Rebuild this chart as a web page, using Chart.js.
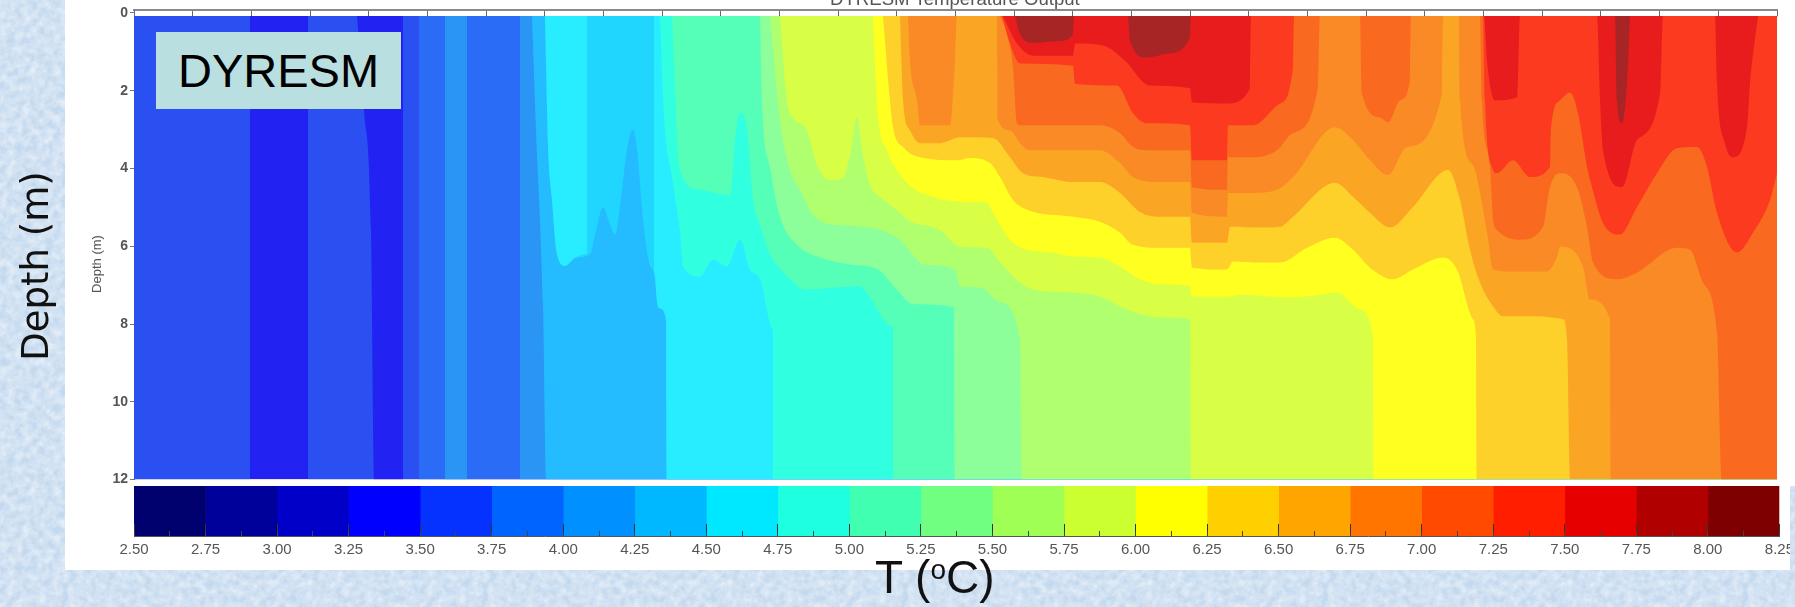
<!DOCTYPE html>
<html>
<head>
<meta charset="utf-8">
<title>DYRESM Temperature Output</title>
<script src="https://cdn.jsdelivr.net/npm/chart.js@4"></script>
<style>
    html, body { margin: 0; padding: 0; }
    body {
        position: relative; width: 1795px; height: 607px; overflow: hidden;
        font-family: "Liberation Sans", Arial, sans-serif; color: #111;
        background-color: #c2d8ee;
        background-image: url("data:image/svg+xml;utf8,<svg xmlns='http://www.w3.org/2000/svg' width='420' height='420'><filter id='n'><feTurbulence type='fractalNoise' baseFrequency='0.13' numOctaves='4' stitchTiles='stitch'/><feColorMatrix values='0 0 0 0 1 0 0 0 0 1 0 0 0 0 1 0.9 0 0 0 -0.2'/></filter><rect width='100%' height='100%' filter='url(%23n)'/></svg>");
    }
    .panel { position: absolute; background: #fff; }
    .label { position: absolute; white-space: nowrap; }
    #plotWrap { position: absolute; left: 65px; top: 0; width: 1730px; height: 490px; }
    #barWrap { position: absolute; left: 65px; top: 484px; width: 1725px; height: 86px; overflow: hidden; }
    canvas { display: block; filter: blur(0.7px); }
    #plotTitle { left: 830px; top: -11px; font-size: 18.6px; line-height: 20px; color: #555; }
    #tag {
        left: 156px; top: 32px; width: 245px; height: 77px; background: #b9dfe1; color: #000;
        font-size: 47px; line-height: 77px; text-align: center;
    }
    #depthSmall { left: 96px; top: 264px; font-size: 13px; color: #555; transform: translate(-50%, -50%) rotate(-90deg); }
    #depthBig {
        left: 35px; top: 266px; font-family: "DejaVu Sans", sans-serif; font-size: 37px;
        transform: translate(-50%, -50%) rotate(-90deg);
    }
    #tempLabel { left: 875px; top: 551px; font-size: 46px; line-height: 53px; }
    #tempLabel sup { font-size: 28px; line-height: 0; position: relative; top: -2px; vertical-align: 12px; }
</style>
</head>
<body>
<div class="panel" style="left:65px;top:0;width:1730px;height:486px"></div>
<div class="panel" style="left:65px;top:486px;width:1725px;height:84px"></div>
<div id="plotWrap"><canvas id="plotChart" width="1730" height="490"></canvas></div>
<div id="barWrap"><canvas id="barChart" width="1746" height="86"></canvas></div>
<div class="label" id="plotTitle">DYRESM Temperature Output</div>
<div class="label" id="tag">DYRESM</div>
<div class="label" id="depthSmall">Depth (m)</div>
<div class="label" id="depthBig">Depth (m)</div>
<div class="label" id="tempLabel">T (<sup>o</sup>C)</div>

<script>
// Isotherms: [output step, depth in m] pairs. Water above the line is at least that warm.
const iso325 = [[0,12],[1643,12]];
const iso350 = [[0,12],[116,12],[116,0],[174,0],[174,12],[1643,12]];
// colder pocket that sits above warmer water, painted back over iso350
const coldPocket = [[223,0],[230,2.5],[237,5.6],[240,12],[269,12],[269,0]];
const iso375 = [[285,0],[285,12],[1643,12]];
const iso400 = [[311,0],[311,12],[333,12],[333,0],[386,0],[386,12],[1643,12]];
const iso425 = [[398,0],[402,3],[409,7.5],[412,12],[1643,12]];
const iso450 = [[411,0],[414,3.4],[418,4.8],[423,6.2],[431,6.5],[441,6.3],[456,6.2],[462,5.6],[469,5],[476,5.45],[481,5.7],[488,4.55],[493,3.5],[499,3],[503,3.5],[509,5.3],[516,6.5],[519,6.6],[526,7.6],[532,7.9],[533,12],[1643,12]];
// brighter part of the 4.5 class, the strip between is a touch bluer in the image
const iso450b = [[411,0],[414,3.4],[418,4.8],[423,6.2],[431,6.5],[441,6.3],[453,6.2],[453,0],[520,0],[521,6.7],[526,7.6],[532,7.9],[533,12],[1643,12]];
const iso475 = [[526,0],[529,2.25],[539,4.37],[546,5.65],[549,6.52],[566,6.78],[579,6.34],[593,6.52],[606,5.83],[616,6.6],[626,6.85],[639,8.13],[639,12],[1643,12]];
const iso500 = [[538,0],[546,4.04],[566,4.55],[596,4.68],[602,3.02],[607,2.56],[613,3.02],[619,4.81],[626,5.45],[636,6.21],[647,6.6],[672,7.11],[724,7.03],[759,8.06],[759,12],[1643,12]];
const iso525 = [[626,0],[628,2.25],[636,3.96],[646,5.24],[663,5.96],[686,6.29],[716,6.47],[744,6.6],[761,7.06],[780,7.49],[820,7.57],[821,12],[1643,12]];
const iso550 = [[636,0],[646,2.76],[656,4.04],[666,4.55],[679,5.19],[701,5.45],[716,5.47],[746,5.58],[766,5.83],[791,6.47],[821,6.6],[826,7.03],[846,7.06],[866,7.44],[886,8.39],[888,12],[1643,12]];
const iso575 = [[646,0],[653,2.25],[659,2.69],[673,3.02],[683,3.91],[696,4.3],[709,4.25],[717,3.53],[723,2.69],[728,3.53],[736,4.42],[746,4.73],[766,5.14],[773,5.32],[806,5.58],[826,6.01],[853,6.04],[866,6.42],[886,6.93],[899,7.11],[939,7.19],[966,7.29],[986,7.54],[1006,7.75],[1026,7.83],[1056,7.88],[1057,12],[1643,12]];
const iso600 = [[739,0],[741,1.41],[744,2.69],[753,3.53],[773,4.37],[799,4.73],[833,4.86],[853,4.88],[859,5.14],[876,5.83],[893,6.09],[919,6.16],[939,6.27],[966,6.29],[986,6.52],[1006,6.85],[1026,6.98],[1056,7.03],[1058,7.29],[1093,7.29],[1109,7.24],[1146,7.31],[1173,7.29],[1203,7.19],[1226,7.62],[1239,8.34],[1240,12],[1643,12]];
const iso625 = [[749,0],[756,2.25],[759,2.94],[769,3.45],[789,3.73],[823,3.79],[836,3.73],[856,3.86],[866,4.22],[879,4.81],[893,5.06],[939,5.24],[966,5.37],[986,5.65],[999,5.96],[1026,6.04],[1056,6.04],[1058,6.55],[1093,6.6],[1099,6.39],[1126,6.42],[1146,6.42],[1173,6.04],[1201,5.78],[1219,6.09],[1236,6.55],[1259,6.85],[1279,6.6],[1309,6.29],[1323,6.6],[1339,7.88],[1342,8.39],[1343,12],[1643,12]];
const iso650 = [[766,0],[769,2.25],[776,3.02],[786,3.35],[806,3.35],[826,3.2],[859,3.22],[876,3.71],[889,4.12],[909,4.22],[939,4.35],[966,4.35],[986,4.63],[1006,5.12],[1026,5.24],[1056,5.24],[1058,5.91],[1093,5.91],[1096,5.5],[1126,5.52],[1146,5.5],[1159,5.24],[1201,4.37],[1219,4.73],[1236,5.14],[1256,5.52],[1279,4.99],[1314,4.04],[1326,4.81],[1336,6.09],[1346,6.93],[1359,7.54],[1369,7.8],[1403,7.8],[1429,7.88],[1433,8.39],[1436,12],[1643,12]];
const iso675 = [[774,0],[776,1.23],[783,2.25],[786,2.89],[816,2.89],[821,1.23],[823,0],[863,0],[864,2.76],[876,3.02],[886,3.35],[896,3.53],[939,3.53],[966,3.53],[986,3.86],[999,4.22],[1026,4.35],[1056,4.35],[1058,5.14],[1093,5.24],[1094,4.63],[1119,4.63],[1143,4.55],[1159,4.22],[1201,2.94],[1219,3.27],[1236,3.79],[1254,4.17],[1273,3.45],[1308,2.07],[1309,0],[1325,0],[1326,2.25],[1339,3.91],[1353,5.63],[1359,6.6],[1376,6.65],[1413,6.65],[1423,6.27],[1426,6.01],[1449,6.52],[1456,7.37],[1476,7.88],[1477,12],[1643,12]];
const iso700 = [[866,0],[873,0.54],[879,1.41],[883,2.84],[886,2.89],[939,2.89],[966,2.89],[986,3.09],[999,3.45],[1013,3.53],[1056,3.53],[1058,4.48],[1093,4.55],[1094,3.71],[1119,3.71],[1143,3.53],[1159,3.09],[1184,1.92],[1186,0],[1226,0],[1228,2.07],[1246,2.69],[1254,2.81],[1266,2.25],[1276,1.74],[1277,0],[1346,0],[1348,2.25],[1356,3.96],[1359,5.32],[1363,5.58],[1386,5.83],[1409,5.5],[1416,4.48],[1426,4.12],[1443,4.48],[1453,5.5],[1459,6.42],[1483,6.85],[1503,6.68],[1543,6.04],[1556,6.09],[1569,6.93],[1583,8.21],[1588,12],[1643,12]];
const iso725 = [[868,0],[876,0.79],[886,1.3],[939,1.36],[941,1.82],[983,1.87],[999,2.58],[1013,2.84],[1056,2.89],[1058,3.79],[1093,3.79],[1094,2.89],[1119,2.89],[1146,2.33],[1159,1.41],[1160,0],[1349,0],[1351,2.25],[1358,3.96],[1363,4.12],[1379,3.79],[1396,4.22],[1416,3.96],[1417,2.94],[1426,2.25],[1436,2.05],[1444,2.58],[1453,3.96],[1458,4.48],[1469,5.4],[1486,5.7],[1503,4.99],[1523,4.12],[1543,3.48],[1563,3.45],[1573,3.96],[1583,5.14],[1603,6.16],[1619,5.65],[1636,4.81],[1643,4.12]];
const iso750 = [[869,0],[883,0.79],[899,1.1],[939,1.1],[941,0.79],[969,0.84],[991,1.23],[1016,1.87],[1056,1.94],[1058,2.3],[1093,2.33],[1116,1.94],[1117,0],[1350,0],[1353,1.23],[1361,2.25],[1383,2.17],[1386,0],[1463,0],[1466,2.25],[1469,3.53],[1488,4.48],[1503,3.27],[1526,2.07],[1529,0],[1581,0],[1583,1.82],[1591,3.35],[1599,3.71],[1613,2.94],[1616,1.82],[1624,0]];
const iso775 = [[881,0],[886,0.54],[899,0.77],[926,0.72],[939,0.54],[940,0],[994,0],[996,0.72],[1013,1.15],[1033,1.05],[1056,0.64],[1057,0],[1481,0],[1483,2.25],[1488,2.84],[1493,1.82],[1496,0]];

// colour bar: lower edge of each 0.25 degree class and its colour
const barLevels = [2.5,2.75,3,3.25,3.5,3.75,4,4.25,4.5,4.75,5,5.25,5.5,5.75,6,6.25,6.5,6.75,7,7.25,7.5,7.75,8];
const barColors = ["#00006e","#00009a","#0000c8","#0000ff","#0632ff","#0064ff","#0090ff","#00b8ff","#00e8ff","#1effe0","#40ffb0","#70ff80","#a0ff55","#ccff30","#ffff00","#ffd000","#ffa500","#ff7500","#ff4a00","#ff1e00","#e60000","#b00000","#7f0000"];
const depthTicks = [0,2,4,6,8,10,12];

// paint order, coldest first. The plot colours are paler than the bar's, as in the washed-out image.
const layers = [
    { line: iso325, color: "#2222f2" },
    { line: iso350, color: "#2a50f2" },
    { line: coldPocket, color: "#2222f2" },
    { line: iso375, color: "#2a6cf5" },
    { line: iso400, color: "#2a95f5" },
    { line: iso425, color: "#25bcff" },
    { line: iso450, color: "#20d6ff" },
    { line: iso450b, color: "#28ecff" },
    { line: iso475, color: "#30ffe0" },
    { line: iso500, color: "#55ffb8" },
    { line: iso525, color: "#8cff9a" },
    { line: iso550, color: "#b0ff6e" },
    { line: iso575, color: "#d8ff45" },
    { line: iso600, color: "#ffff20" },
    { line: iso625, color: "#fdd02a" },
    { line: iso650, color: "#fba525" },
    { line: iso675, color: "#f98a25" },
    { line: iso700, color: "#f96a20" },
    { line: iso725, color: "#fb3a20" },
    { line: iso750, color: "#e81c1c" },
    { line: iso775, color: "#a82525" }
];

const surface = 0.08; // image leaves a white strip for the top ticks above this depth

new Chart(document.getElementById("plotChart"), {
    type: "scatter",
    data: {
        datasets: layers.map((l, i) => ({
            data: l.line.map(p => [p[0], Math.max(p[1], surface)]),
            showLine: true,
            cubicInterpolationMode: "monotone",
            pointRadius: 0,
            borderWidth: 0,
            backgroundColor: l.color,
            fill: { value: surface },
            order: layers.length - i
        }))
    },
    options: {
        responsive: false,
        animation: false,
        layout: { padding: { left: 0, right: 18, top: 9.5, bottom: 9 } },
        plugins: { legend: { display: false }, tooltip: { enabled: false } },
        scales: {
            x: {
                type: "linear", position: "top", min: 0, max: 1643,
                ticks: { display: false, stepSize: 1643 / 28 },
                grid: { drawOnChartArea: false, tickLength: -6, color: "#666" },
                border: { color: "#8a8a8a", width: 2 },
                afterFit: s => { s.height = 0; }
            },
            y: {
                type: "linear", reverse: true, min: -0.064, max: 12,
                afterBuildTicks: s => { s.ticks = depthTicks.map(v => ({ value: v })); },
                afterFit: s => { s.width = 69; },
                ticks: { color: "#555", font: { family: "Liberation Sans", size: 14, weight: "bold" }, padding: 2, autoSkip: false },
                grid: { drawOnChartArea: false, tickLength: 4, color: "#777" },
                border: { color: "#5a6aa0" }
            }
        }
    }
});

new Chart(document.getElementById("barChart"), {
    type: "bar",
    data: {
        labels: ["T"],
        datasets: barLevels.map((lo, i) => ({
            data: [[lo, i < barLevels.length - 1 ? barLevels[i + 1] : 8.25]],
            backgroundColor: barColors[i],
            barPercentage: 1,
            categoryPercentage: 1
        }))
    },
    options: {
        indexAxis: "y",
        responsive: false,
        animation: false,
        layout: { padding: { left: 69, right: 0, top: 2, bottom: 0 } },
        plugins: { legend: { display: false }, tooltip: { enabled: false } },
        scales: {
            y: { display: false, stacked: true },
            x: {
                type: "linear", min: 2.5, max: 8.25,
                ticks: {
                    stepSize: 0.25, maxRotation: 0, autoSkip: false, padding: 17,
                    color: "#555", font: { family: "Liberation Sans", size: 15 },
                    callback: v => v.toFixed(2)
                },
                grid: { drawOnChartArea: false, tickLength: -12, color: "#333", z: 1 },
                border: { color: "#555", z: 1 },
                afterFit: s => { s.height = 34; }
            },
            minor: {
                type: "linear", axis: "x", position: "bottom", min: 2.5, max: 8.25, weight: -1,
                ticks: { display: false, stepSize: 0.125 },
                grid: { drawOnChartArea: false, tickLength: -5, color: "#444", z: 1 },
                border: { display: false },
                afterFit: s => { s.height = 0; }
            }
        }
    }
});
</script>
</body>
</html>
